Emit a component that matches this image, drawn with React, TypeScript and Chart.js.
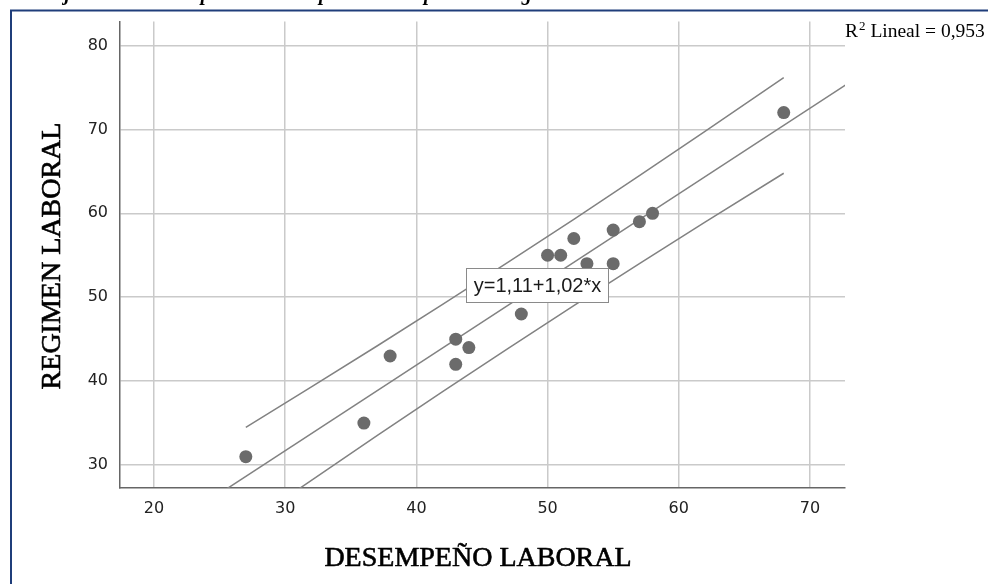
import React, { useEffect, useRef } from "react";
import { Chart, registerables } from "chart.js";
Chart.register(...registerables);

const desempeno = [27, 36, 38, 43, 43, 44, 48, 50, 51, 52, 53, 55, 55, 57, 58, 68];
const regimen = [31, 35, 43, 45, 42, 44, 48, 55, 55, 57, 54, 58, 54, 59, 60, 72];
const fitX = [17.4, 72.7];
const fitY = [18.86, 75.26];
const bandX = [27, 32, 37, 42, 47, 52, 57, 62, 68];
const bandUpper = [34.49, 39.31, 44.19, 49.14, 54.18, 59.29, 64.49, 69.76, 76.17];
const bandLower = [22.81, 28.19, 33.51, 38.76, 43.92, 49.01, 54.01, 58.94, 64.77];
const xTicks = [20, 30, 40, 50, 60, 70];
const yTicks = [30, 40, 50, 60, 70, 80];
const xRange = [17.41, 72.67];
const yRange = [27.27, 82.84];

const xTitle = "DESEMPEÑO LABORAL";
const yTitle = "REGIMEN LABORAL";
const equation = "y=1,11+1,02*x";
const r2Label = "Lineal = 0,953";
const topCaption = "El dibujo muestra la dispersión de los puntos en el plano del régimen laboral";

const pts = (xs: number[], ys: number[]) => xs.map((x, i) => ({ x, y: ys[i] }));

const decor = {
  id: "decor",
  beforeDraw(chart: any) {
    const ctx = chart.ctx;
    ctx.save();
    ctx.fillStyle = "#ffffff";
    ctx.fillRect(0, 0, chart.width, chart.height);
    ctx.restore();
  },
  afterDraw(chart: any) {
    const ctx = chart.ctx;
    ctx.save();
    // frame
    ctx.strokeStyle = "#1f3d7a";
    ctx.lineWidth = 2;
    ctx.strokeRect(11, 10.5, 1200, 1200);
    // cut-off caption at very top
    ctx.fillStyle = "#000";
    ctx.font = "italic bold 20px 'Liberation Serif'";
    ctx.textAlign = "left";
    ctx.textBaseline = "alphabetic";
    ctx.fillText(topCaption, 4, 0);
    // x title
    ctx.font = "28px 'Liberation Serif'";
    ctx.textAlign = "center";
    ctx.strokeStyle = "#000";
    ctx.lineWidth = 0.6;
    ctx.fillText(xTitle, 478, 566);
    ctx.strokeText(xTitle, 478, 566);
    // y title
    ctx.save();
    ctx.translate(60, 256);
    ctx.rotate(-Math.PI / 2);
    ctx.fillText(yTitle, 0, 0);
    ctx.strokeText(yTitle, 0, 0);
    ctx.restore();
    // R2
    ctx.textAlign = "left";
    ctx.font = "19.5px 'Liberation Serif'";
    ctx.fillText("R", 845, 37);
    const rw = ctx.measureText("R").width;
    ctx.font = "13px 'Liberation Serif'";
    ctx.fillText("2", 845 + rw + 1, 30);
    const sw = ctx.measureText("2").width;
    ctx.font = "19.5px 'Liberation Serif'";
    ctx.fillText(" " + r2Label, 845 + rw + sw + 1, 37);
    // equation box
    ctx.fillStyle = "#ffffff";
    ctx.fillRect(466, 268, 143, 35);
    ctx.strokeStyle = "#8a8a8a";
    ctx.lineWidth = 1;
    ctx.strokeRect(466.5, 268.5, 142, 34);
    ctx.fillStyle = "#1a1a1a";
    ctx.font = "20px 'Liberation Sans'";
    ctx.textAlign = "center";
    ctx.textBaseline = "middle";
    ctx.fillText(equation, 537.5, 286);
    ctx.restore();
  },
};

export default function App() {
  const ref = useRef<HTMLCanvasElement>(null);
  useEffect(() => {
    if (!ref.current) return;
    const tickFont = { family: "'DejaVu Sans'", size: 16 };
    const chart = new Chart(ref.current, {
      type: "scatter",
      data: {
        datasets: [
          {
            data: pts(desempeno, regimen),
            pointRadius: 6.5,
            pointBackgroundColor: "#6b6b6b",
            pointBorderWidth: 0,
            showLine: false,
          },
          {
            data: pts(fitX, fitY),
            showLine: true,
            pointRadius: 0,
            borderColor: "#828282",
            borderWidth: 1.5,
          },
          {
            data: pts(bandX, bandUpper),
            showLine: true,
            pointRadius: 0,
            borderColor: "#828282",
            borderWidth: 1.5,
          },
          {
            data: pts(bandX, bandLower),
            showLine: true,
            pointRadius: 0,
            borderColor: "#828282",
            borderWidth: 1.5,
          },
        ],
      } as any,
      options: {
        animation: false,
        responsive: false,
        devicePixelRatio: 1,
        layout: { padding: { left: 0, top: 19, right: 143, bottom: 0 } },
        plugins: { legend: { display: false }, tooltip: { enabled: false } },
        scales: {
          x: {
            type: "linear",
            min: xRange[0],
            max: xRange[1],
            afterBuildTicks: (s: any) => {
              s.ticks = xTicks.map((v) => ({ value: v }));
            },
            afterFit: (s: any) => {
              s.height = 96;
            },
            grid: { color: "#cacaca", lineWidth: 1.5, drawTicks: false },
            border: { display: true, color: "#666666", width: 1.5 },
            ticks: { font: tickFont, color: "#222", padding: 11, maxRotation: 0 },
          },
          y: {
            type: "linear",
            min: yRange[0],
            max: yRange[1],
            afterBuildTicks: (s: any) => {
              s.ticks = yTicks.map((v) => ({ value: v }));
            },
            afterFit: (s: any) => {
              s.width = 120;
            },
            grid: { color: "#cacaca", lineWidth: 1.5, drawTicks: false },
            border: { display: true, color: "#666666", width: 1.5 },
            ticks: { font: tickFont, color: "#222", padding: 12 },
          },
        },
      } as any,
      plugins: [decor],
    });
    return () => chart.destroy();
  }, []);
  return (
    <div style={{ position: "absolute", left: 0, top: 0, width: 988, height: 584, overflow: "hidden" }}>
      <canvas ref={ref} width={988} height={584} style={{ display: "block", width: 988, height: 584 }} />
    </div>
  );
}
